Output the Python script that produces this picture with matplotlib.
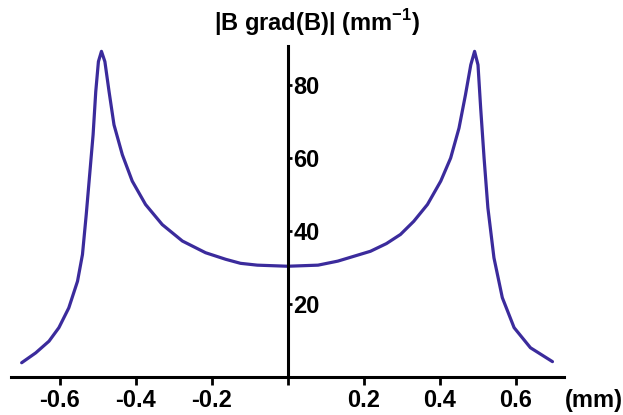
import matplotlib
matplotlib.use('Agg')
import matplotlib.pyplot as plt

plt.rcParams['font.family'] = ['Liberation Sans', 'DejaVu Sans']
plt.rcParams['font.weight'] = 'bold'
plt.rcParams['mathtext.fontset'] = 'custom'
plt.rcParams['mathtext.rm'] = 'Liberation Sans:bold'
plt.rcParams['mathtext.bf'] = 'Liberation Sans:bold'

# values: position (mm) and |B grad(B)| (mm^-1)
pos_mm = [-0.700, -0.663, -0.628, -0.602, -0.576, -0.553, -0.540, -0.530,
          -0.521, -0.512, -0.505, -0.498, -0.490, -0.481, -0.470, -0.457,
          -0.435, -0.409, -0.374, -0.330, -0.277, -0.216, -0.163, -0.124,
          -0.080, 0.0, 0.080, 0.132, 0.218, 0.260, 0.297, 0.332, 0.368,
          0.403, 0.429, 0.451, 0.468, 0.482, 0.492, 0.501, 0.508, 0.517,
          0.527, 0.543, 0.565, 0.596, 0.639, 0.697]
bgradb = [3.9, 6.6, 9.8, 13.5, 18.9, 26.2, 33.5, 44.5,
          55.4, 66.3, 78.1, 86.3, 89.1, 86.3, 78.1, 69.0,
          60.8, 53.6, 47.2, 41.7, 37.2, 34.0, 32.2, 31.1,
          30.6, 30.3, 30.6, 31.7, 34.4, 36.5, 39.0, 42.6, 47.2,
          53.6, 59.9, 68.1, 77.2, 85.4, 89.1, 85.4, 73.6, 59.9,
          46.3, 32.6, 21.7, 13.5, 8.0, 4.2]

xticks = [-0.6, -0.4, -0.2, 0.0, 0.2, 0.4, 0.6]
xticklabels = ['-0.6', '-0.4', '-0.2', '', '0.2', '0.4', '0.6']
yticks = [20, 40, 60, 80]

fig = plt.figure(figsize=(6.23, 4.15), dpi=100)
ax = fig.add_axes([0.0177, 0.0916, 0.888, 0.797])

ax.plot(pos_mm, bgradb, color='#3b2b9c', lw=2.3,
        solid_joinstyle='round', solid_capstyle='round')

ax.set_xlim(-0.728, 0.728)
ax.set_ylim(0, 90.5)

ax.spines['top'].set_visible(False)
ax.spines['right'].set_visible(False)
ax.spines['left'].set_position(('data', 0))
ax.spines['left'].set_linewidth(2.2)
ax.spines['bottom'].set_linewidth(2.2)

ax.set_xticks(xticks)
ax.set_xticklabels(xticklabels)
ax.set_yticks(yticks)
ax.tick_params(axis='x', direction='out', length=6, width=2, labelsize=17, pad=3)
ax.tick_params(axis='y', direction='in', length=3, width=2, labelsize=17, pad=-4)
for lab in ax.get_yticklabels():
    lab.set_ha('left')

fig.text(0.508, 0.945, r'|B grad(B)| (mm$^{\mathbf{-1}}$)', ha='center', va='center',
         fontsize=17, fontweight='bold')
fig.text(0.907, 0.035, '(mm)', ha='left', va='center', fontsize=17, fontweight='bold')

fig.savefig('out.png', dpi=100)
